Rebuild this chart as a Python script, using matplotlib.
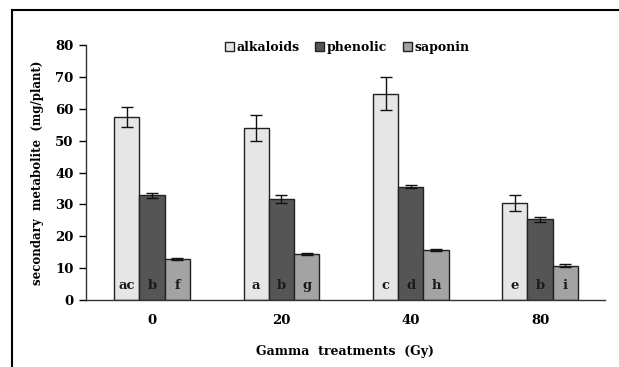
import numpy as np
import matplotlib
matplotlib.use("Agg")
import matplotlib.pyplot as plt
from matplotlib.lines import Line2D

plt.rcParams['font.family'] = ['DejaVu Serif']
plt.rcParams['font.weight'] = 'bold'

# data
doses = ['0', '20', '40', '80']
alkaloids = [57.5, 54.0, 64.8, 30.4]
alkaloids_err = [3.2, 4.0, 5.2, 2.4]
phenolic = [32.8, 31.6, 35.5, 25.3]
phenolic_err = [0.8, 1.2, 0.5, 0.7]
saponin = [12.8, 14.4, 15.6, 10.8]
saponin_err = [0.3, 0.3, 0.3, 0.5]
letters_alk = ['ac', 'a', 'c', 'e']
letters_phe = ['b', 'b', 'd', 'b']
letters_sap = ['f', 'g', 'h', 'i']

fig = plt.figure(figsize=(6.19, 3.67), dpi=100)
ax = fig.add_axes([0.139, 0.1826, 0.838, 0.6944])

x = np.arange(len(doses))
w = 0.195
series = [
    (alkaloids, alkaloids_err, letters_alk, '#e6e6e6', 'alkaloids'),
    (phenolic, phenolic_err, letters_phe, '#555555', 'phenolic'),
    (saponin, saponin_err, letters_sap, '#a3a3a3', 'saponin'),
]
for i, (vals, errs, labs, col, name) in enumerate(series):
    pos = x + (i - 1) * w
    ax.bar(pos, vals, w, color=col, edgecolor='#222222', linewidth=1.0, label=name,
           yerr=errs, error_kw=dict(ecolor='#111111', elinewidth=1.0, capsize=4, capthick=1.0))
    for p, t in zip(pos, labs):
        ax.text(p, 4.7, t, ha='center', va='center', fontsize=9.5, fontweight='bold', color='#1a1a1a')

ax.set_xlim(-0.51, 3.5)
ax.set_ylim(0, 80)
ax.set_yticks(np.arange(0, 81, 10))
ax.set_xticks(x)
ax.set_xticklabels(doses)
ax.tick_params(axis='x', length=0, pad=10, labelsize=9.5)
ax.tick_params(axis='y', length=5, direction='out', labelsize=9.5, width=1.0, pad=4)
for s in ['top', 'right']:
    ax.spines[s].set_visible(False)
for s in ['left', 'bottom']:
    ax.spines[s].set_color('#333333')
    ax.spines[s].set_linewidth(1.0)

ax.set_ylabel('secondary  metabolite  (mg/plant)', fontsize=8.5, fontweight='bold', labelpad=8)
ax.set_xlabel('Gamma  treatments  (Gy)', fontsize=9, fontweight='bold', labelpad=13)

leg = fig.legend(loc='center', bbox_to_anchor=(0.561, 0.87), ncol=3, frameon=False,
                 fontsize=9, handlelength=0.7, handleheight=0.7, handletextpad=0.2,
                 columnspacing=1.3)
for t in leg.get_texts():
    t.set_fontweight('bold')

# frame lines of the original figure
fig.add_artist(Line2D([12 / 619, 12 / 619], [0, 1 - 10 / 367], transform=fig.transFigure, color='black', lw=1.5))
fig.add_artist(Line2D([12 / 619, 1], [1 - 10 / 367, 1 - 10 / 367], transform=fig.transFigure, color='black', lw=1.5))

fig.savefig('out.png', dpi=100)
